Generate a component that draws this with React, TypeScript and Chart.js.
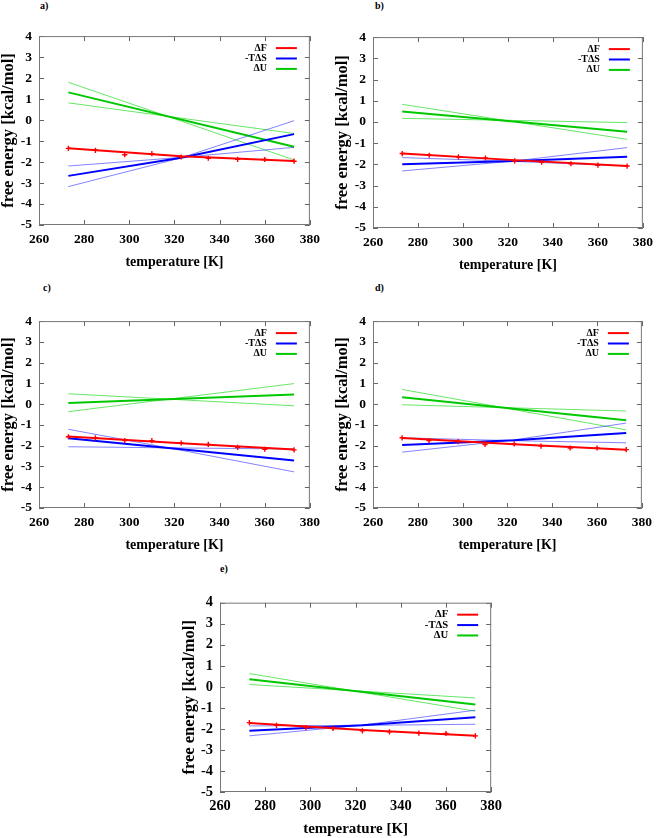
import React, { useEffect, useRef } from "react";
import { Chart, registerables } from "chart.js";

Chart.register(...registerables);

// ---------- shared axis / label data ----------
const T_POINTS = [273, 285, 298, 310, 323, 335, 348, 360, 373];
const T_LINE = [273, 323, 373];
const T_ENDS = [273, 373];
const X_MIN = 260;
const X_MAX = 380;
const X_STEP = 20;
const Y_MIN = -5;
const Y_MAX = 4;
const Y_STEP = 1;
const LEGEND_LABELS = ["ΔF", "-TΔS", "ΔU"];
const X_TITLE = "temperature [K]";
const Y_TITLE = "free energy [kcal/mol]";
const PANEL_LABELS = ["a)", "b)", "c)", "d)", "e)"];

// ---------- panel a ----------
const A_F_POINTS = [-1.35, -1.44, -1.65, -1.6, -1.76, -1.82, -1.87, -1.88, -1.96];
const A_F_FIT = [-1.34, -1.72, -1.95];
const A_TS = [-2.66, -1.8, -0.67];
const A_TS_B1 = [-3.17, -1.8, -0.03];
const A_TS_B2 = [-2.19, -1.78, -1.3];
const A_U = [1.32, -1.27];
const A_U_B1 = [1.8, -1.9];
const A_U_B2 = [0.82, -0.64];

// ---------- panel b ----------
const B_F_POINTS = [-1.49, -1.57, -1.65, -1.7, -1.84, -1.9, -1.97, -2.04, -2.08];
const B_F_FIT = [-1.49, -1.8, -2.08];
const B_TS = [-2.0, -1.84, -1.64];
const B_TS_B1 = [-2.31, -1.84, -1.21];
const B_TS_B2 = [-1.68, -1.86, -2.08];
const B_U = [0.49, -0.46];
const B_U_B1 = [0.83, -0.82];
const B_U_B2 = [0.17, -0.03];

// ---------- panel c ----------
const C_F_POINTS = [-1.57, -1.62, -1.75, -1.76, -1.87, -1.94, -2.08, -2.17, -2.2];
const C_F_FIT = [-1.56, -1.88, -2.18];
const C_TS = [-1.64, -2.17, -2.71];
const C_TS_B1 = [-1.21, -2.22, -3.26];
const C_TS_B2 = [-2.05, -2.11, -2.16];
const C_U = [0.06, 0.46];
const C_U_B1 = [0.5, -0.08];
const C_U_B2 = [-0.36, 0.99];

// ---------- panel d ----------
const D_F_POINTS = [-1.62, -1.75, -1.8, -1.94, -1.91, -2.02, -2.11, -2.11, -2.19];
const D_F_FIT = [-1.63, -1.93, -2.2];
const D_TS = [-1.97, -1.74, -1.39];
const D_TS_B1 = [-2.31, -1.72, -0.91];
const D_TS_B2 = [-1.62, -1.76, -1.86];
const D_U = [0.33, -0.77];
const D_U_B1 = [0.71, -1.24];
const D_U_B2 = [-0.03, -0.33];

// ---------- panel e ----------
const E_F_POINTS = [-1.7, -1.83, -1.94, -1.98, -2.09, -2.14, -2.2, -2.22, -2.33];
const E_F_FIT = [-1.72, -2.05, -2.33];
const E_TS = [-2.09, -1.83, -1.45];
const E_TS_B1 = [-2.33, -1.82, -1.11];
const E_TS_B2 = [-1.86, -1.83, -1.78];
const E_U = [0.36, -0.84];
const E_U_B1 = [0.63, -1.16];
const E_U_B2 = [0.11, -0.53];

// ---------- styles ----------
const RED = "#ff0000";
const BLUE = "#0000ff";
const BLUE_THIN = "rgba(30,30,255,0.55)";
const GREEN = "#00c800";
const GREEN_THIN = "rgba(0,215,0,0.6)";
const LEGEND_COLORS = [RED, BLUE, GREEN];
const FONT = "'Liberation Serif', 'Times New Roman', serif";

const YW = 40; // y-axis box width
const PT = 12; // top padding
const PR = 16; // right padding
const XH = 48; // x-axis box height

type PanelData = {
  fPts: number[]; fFit: number[];
  ts: number[]; tsB1: number[]; tsB2: number[];
  u: number[]; uB1: number[]; uB2: number[];
};
type PanelDef = {
  label: string; data: PanelData;
  l: number; r: number; t: number; b: number;
  lx: number; ly: number; fs: number;
};

const PANELS: PanelDef[] = [
  { label: PANEL_LABELS[0], data: { fPts: A_F_POINTS, fFit: A_F_FIT, ts: A_TS, tsB1: A_TS_B1, tsB2: A_TS_B2, u: A_U, uB1: A_U_B1, uB2: A_U_B2 }, l: 39, r: 310, t: 33, b: 225, lx: 40, ly: 1, fs: 1 },
  { label: PANEL_LABELS[1], data: { fPts: B_F_POINTS, fFit: B_F_FIT, ts: B_TS, tsB1: B_TS_B1, tsB2: B_TS_B2, u: B_U, uB1: B_U_B1, uB2: B_U_B2 }, l: 373, r: 643, t: 34, b: 228, lx: 375, ly: 1, fs: 1 },
  { label: PANEL_LABELS[2], data: { fPts: C_F_POINTS, fFit: C_F_FIT, ts: C_TS, tsB1: C_TS_B1, tsB2: C_TS_B2, u: C_U, uB1: C_U_B1, uB2: C_U_B2 }, l: 39, r: 310, t: 318, b: 508, lx: 43, ly: 283, fs: 1 },
  { label: PANEL_LABELS[3], data: { fPts: D_F_POINTS, fFit: D_F_FIT, ts: D_TS, tsB1: D_TS_B1, tsB2: D_TS_B2, u: D_U, uB1: D_U_B1, uB2: D_U_B2 }, l: 373, r: 642, t: 318, b: 508, lx: 375, ly: 283, fs: 1 },
  { label: PANEL_LABELS[4], data: { fPts: E_F_POINTS, fFit: E_F_FIT, ts: E_TS, tsB1: E_TS_B1, tsB2: E_TS_B2, u: E_U, uB1: E_U_B1, uB2: E_U_B2 }, l: 220, r: 492, t: 599, b: 792, lx: 220, ly: 564, fs: 1.07 },
];

function xy(xs: number[], ys: number[]) {
  return xs.map((x, i) => ({ x, y: ys[i] }));
}

function buildDatasets(d: PanelData): any[] {
  const line = (data: any[], color: string, width: number) => ({
    data, borderColor: color, backgroundColor: color, borderWidth: width,
    pointRadius: 0, pointHoverRadius: 0, fill: false, tension: 0,
  });
  return [
    {
      data: xy(T_POINTS, d.fPts), showLine: false, borderColor: RED, backgroundColor: RED,
      pointStyle: "cross", pointRadius: 2.6, borderWidth: 1.4, pointHoverRadius: 0,
    },
    line(xy(T_LINE, d.fFit), RED, 2),
    line(xy(T_LINE, d.ts), BLUE, 2),
    line(xy(T_LINE, d.tsB1), BLUE_THIN, 1),
    line(xy(T_LINE, d.tsB2), BLUE_THIN, 1),
    line(xy(T_ENDS, d.u), GREEN, 2),
    line(xy(T_ENDS, d.uB1), GREEN_THIN, 1),
    line(xy(T_ENDS, d.uB2), GREEN_THIN, 1),
  ];
}

const decorPlugin = {
  id: "decor",
  afterDraw(chart: any) {
    const { ctx, chartArea: ca, scales } = chart;
    const fs = chart.options.plugins.decor?.fs ?? 1;
    ctx.save();
    // inward tick marks on all four sides
    ctx.strokeStyle = "#666";
    ctx.lineWidth = 1;
    ctx.beginPath();
    scales.x.ticks.forEach((t: any) => {
      const x = Math.round(scales.x.getPixelForValue(t.value)) + 0.5;
      ctx.moveTo(x, ca.bottom);
      ctx.lineTo(x, ca.bottom - 5);
      ctx.moveTo(x, ca.top);
      ctx.lineTo(x, ca.top + 5);
    });
    scales.y.ticks.forEach((t: any) => {
      const y = Math.round(scales.y.getPixelForValue(t.value)) + 0.5;
      ctx.moveTo(ca.left, y);
      ctx.lineTo(ca.left + 5, y);
      ctx.moveTo(ca.right, y);
      ctx.lineTo(ca.right - 5, y);
    });
    ctx.stroke();
    // frame
    ctx.strokeStyle = "#777";
    ctx.strokeRect(ca.left + 0.5, ca.top + 0.5, ca.right - ca.left - 1, ca.bottom - ca.top - 1);
    // legend (text to the left of the line sample)
    ctx.font = `bold ${10 * fs}px ${FONT}`;
    ctx.textAlign = "right";
    ctx.textBaseline = "middle";
    LEGEND_LABELS.forEach((lab, i) => {
      const y = ca.top + 12 + i * 10.4;
      ctx.fillStyle = "#000";
      ctx.fillText(lab, ca.right - 43, y);
      ctx.strokeStyle = LEGEND_COLORS[i];
      ctx.lineWidth = 2;
      ctx.beginPath();
      ctx.moveTo(ca.right - 34, y);
      ctx.lineTo(ca.right - 13, y);
      ctx.stroke();
    });
    ctx.restore();
  },
};

function Panel({ p }: { p: PanelDef }) {
  const ref = useRef<HTMLCanvasElement | null>(null);
  const w = p.r - p.l + YW + PR;
  const h = p.b - p.t + PT + XH;
  useEffect(() => {
    if (!ref.current) return;
    const tickFont = { family: FONT, size: 13.5 * p.fs, weight: "bold" as const };
    const chart = new Chart(ref.current, {
      type: "line",
      data: { datasets: buildDatasets(p.data) },
      options: {
        responsive: false,
        animation: false,
        devicePixelRatio: 1,
        events: [],
        layout: { padding: { left: 0, top: PT, right: PR, bottom: 0 } },
        plugins: {
          legend: { display: false },
          tooltip: { enabled: false },
          decor: { fs: p.fs },
        } as any,
        scales: {
          x: {
            type: "linear",
            min: X_MIN,
            max: X_MAX,
            grid: { display: false, drawTicks: false },
            border: { display: false },
            ticks: { stepSize: X_STEP, padding: 6, color: "#000", font: tickFont, maxRotation: 0, autoSkip: false },
            title: {
              display: true, text: X_TITLE, color: "#000",
              font: { family: FONT, size: 14 * p.fs, weight: "bold" },
              padding: { top: 0, bottom: 2 },
            },
            afterFit: (s: any) => { s.height = XH; },
          },
          y: {
            type: "linear",
            min: Y_MIN,
            max: Y_MAX,
            grid: { display: false, drawTicks: false },
            border: { display: false },
            ticks: { stepSize: Y_STEP, padding: 7, color: "#000", font: tickFont, autoSkip: false },
            title: {
              display: true, text: Y_TITLE, color: "#000",
              font: { family: FONT, size: 16.5, weight: "bold" },
              padding: { top: 0, bottom: 0 },
            },
            afterFit: (s: any) => { s.width = YW; },
          },
        },
      } as any,
      plugins: [decorPlugin],
    });
    return () => chart.destroy();
  }, []);
  return (
    <canvas
      ref={ref}
      width={w}
      height={h}
      style={{ position: "absolute", left: p.l - YW, top: p.t - PT, width: w, height: h }}
    />
  );
}

export default function App() {
  return (
    <div style={{ position: "absolute", left: 0, top: 0, width: 656, height: 838, overflow: "hidden", background: "#fff" }}>
      {PANELS.map((p) => (
        <React.Fragment key={p.label}>
          <div
            style={{
              position: "absolute", left: p.lx, top: p.ly, fontFamily: FONT, fontWeight: "bold",
              fontSize: 10, lineHeight: "10px", color: "#000",
            }}
          >
            {p.label}
          </div>
          <Panel p={p} />
        </React.Fragment>
      ))}
    </div>
  );
}
